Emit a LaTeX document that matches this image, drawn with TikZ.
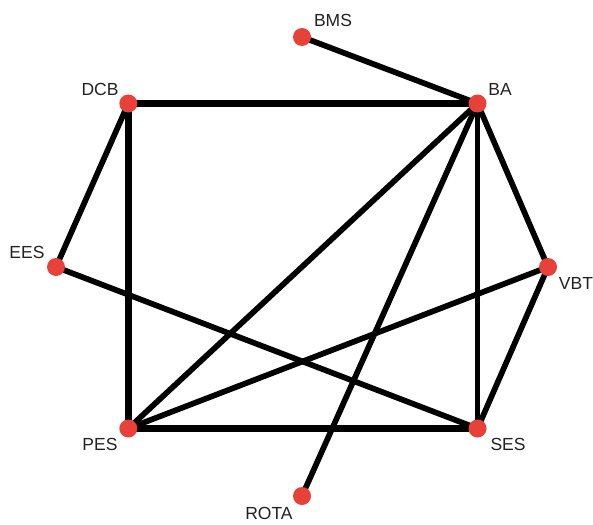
\documentclass[tikz,border=0pt]{standalone}
\usepackage{fontspec}
\setmainfont{Liberation Sans}
\usetikzlibrary{backgrounds}
\definecolor{dotred}{HTML}{E8413A}
\definecolor{labelgray}{HTML}{222222}
\begin{document}
\begin{tikzpicture}[x=1pt,y=-1pt,
  vertex/.style={circle,fill=dotred,draw=none,minimum size=18pt,inner sep=0pt},
  vlabel/.style={text=labelgray,inner sep=0pt,font=\fontsize{17.5}{18}\selectfont},
  edge/.style={draw=black,line width=5.7pt},
  heavy/.style={draw=black,line width=7.3pt}]
\useasboundingbox (0,0) rectangle (593,524);
% vertices
\node[vertex] (BMS)  at (302,37)  {};
\node[vertex] (BA)   at (477.5,103.5) {};
\node[vertex] (DCB)  at (128.3,103.5) {};
\node[vertex] (EES)  at (56,267)  {};
\node[vertex] (VBT)  at (548,267) {};
\node[vertex] (PES)  at (128.3,428.5) {};
\node[vertex] (SES)  at (477.5,428.5) {};
\node[vertex] (ROTA) at (302,496) {};
% labels
\node[vlabel] (lBMS)  at (333,20)  {BMS};
\node[vlabel] (lBA)   at (500,89)  {BA};
\node[vlabel] (lDCB)  at (100,89)  {DCB};
\node[vlabel] (lEES)  at (27,252)  {EES};
\node[vlabel] (lVBT)  at (576,283) {VBT};
\node[vlabel] (lPES)  at (100,444) {PES};
\node[vlabel] (lSES)  at (508,444) {SES};
\node[vlabel] (lROTA) at (269,513) {ROTA};
% edges
\begin{scope}[on background layer]
  \draw[edge]  (BMS.center) -- (BA.center);
  \draw[heavy] (DCB.center) -- (BA.center);
  \draw[heavy] (DCB.center) -- (PES.center);
  \draw[heavy] (PES.center) -- (SES.center);
  \draw[edge]  (BA.center) -- (SES.center);
  \draw[edge]  (DCB.center) -- (EES.center);
  \draw[edge]  (EES.center) -- (SES.center);
  \draw[edge]  (BA.center) -- (VBT.center);
  \draw[edge]  (BA.center) -- (PES.center);
  \draw[edge]  (BA.center) -- (ROTA.center);
  \draw[edge]  (VBT.center) -- (PES.center);
  \draw[edge]  (VBT.center) -- (SES.center);
\end{scope}
\end{tikzpicture}
\end{document}
